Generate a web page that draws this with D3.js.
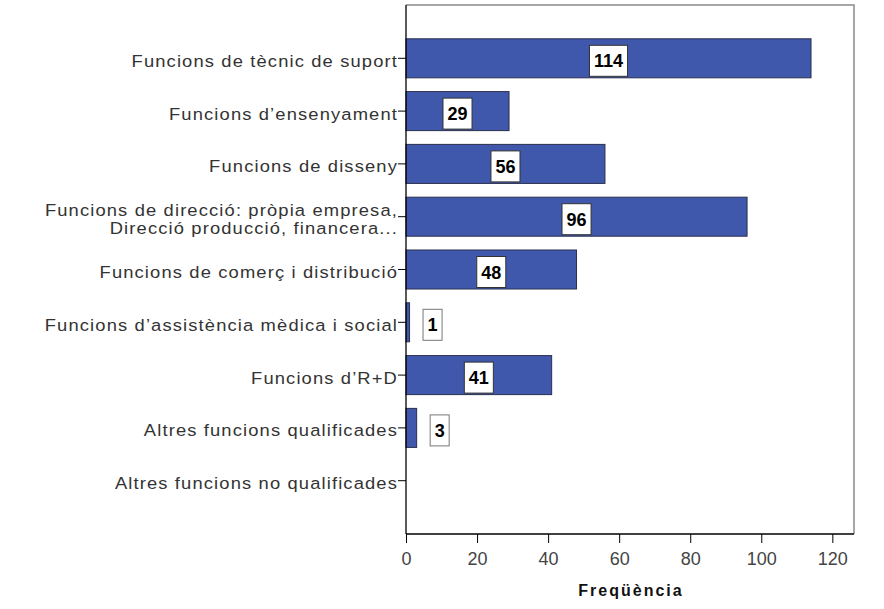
<!DOCTYPE html>
<html><head><meta charset="utf-8">
<script src="https://cdn.jsdelivr.net/npm/d3@7"></script>
<style>body{margin:0;background:#fff;} text{font-family:"Liberation Sans",Arial,sans-serif;}</style>
</head><body>
<svg id="c" width="884" height="609"></svg>
<script>
const categories = [
  ["Funcions de tècnic de suport"],
  ["Funcions d’ensenyament"],
  ["Funcions de disseny"],
  ["Funcions de direcció: pròpia empresa,", "Direcció producció, financera..."],
  ["Funcions de comerç i distribució"],
  ["Funcions d’assistència mèdica i social"],
  ["Funcions d’R+D"],
  ["Altres funcions qualificades"],
  ["Altres funcions no qualificades"]
];
const values = [114, 29, 56, 96, 48, 1, 41, 3, null];
const xTicks = [0, 20, 40, 60, 80, 100, 120];
const xTitle = "Freqüència";

const svg = d3.select("#c");
const L = 406, R = 854, T = 5, B = 534;
const x = d3.scaleLinear().domain([0, 126.1]).range([L, R]);
const y = d3.scaleBand().domain(d3.range(categories.length)).range([T, B]).paddingInner(0.261).paddingOuter(0.64);

// frame
svg.append("path").attr("d", `M${L},${T}H${R}V${B}`).attr("fill","none").attr("stroke","#8a8a8a").attr("stroke-width",1.5);

// bars
svg.selectAll("rect.bar").data(values.map((v,i)=>({v,i})).filter(d=>d.v!=null)).enter()
  .append("rect").attr("class","bar")
  .attr("x", x(0)).attr("y", d=>y(d.i)).attr("width", d=>x(d.v)-x(0)).attr("height", y.bandwidth())
  .attr("fill","#3f58ab").attr("stroke","#2b2f4f").attr("stroke-width",1);

// value labels
values.forEach((v,i)=>{
  if(v==null) return;
  const cy = y(i)+y.bandwidth()/2 + 2.5;
  const inside = v > 10;
  const cx = inside ? (x(0)+x(v))/2 : x(v)+23;
  const g = svg.append("g");
  const t = g.append("text").attr("x",cx).attr("y",cy+6.5).attr("text-anchor","middle")
    .attr("font-size",18).attr("font-weight","bold").attr("fill","#000").text(v);
  const bb = t.node().getBBox();
  g.insert("rect","text").attr("x",bb.x-4.5).attr("y",cy-15.5).attr("width",bb.width+9).attr("height",31)
    .attr("fill","#fff").attr("stroke", inside? "#333":"#777").attr("stroke-width",1);
});

// y axis
const ya = svg.append("g").attr("transform",`translate(${L},0)`)
  .call(d3.axisLeft(y).tickSize(8).tickFormat(""));
ya.select(".domain").attr("stroke","#000").attr("stroke-width",1.3).attr("d",`M0,${T}V${B}`);
ya.selectAll(".tick line").attr("stroke","#000");
categories.forEach((lines,i)=>{
  const cy = y(i)+y.bandwidth()/2;
  const ax = L-8;
  const t = svg.append("text").attr("text-anchor","end").attr("font-size",17).attr("fill","#333")
    .attr("letter-spacing","1.05")
    .attr("transform",`translate(${ax},0) scale(1.08,1)`);
  const n = lines.length;
  lines.forEach((s,k)=>{
    t.append("tspan").attr("x", 0).attr("y", cy + 8.5 + (k-(n-1)/2)*18).text(s);
  });
});

// x axis
const xa = svg.append("g").attr("transform",`translate(0,${B})`)
  .call(d3.axisBottom(x).tickValues(xTicks).tickSize(9).tickPadding(4));
xa.select(".domain").attr("stroke","#000").attr("stroke-width",1.3).attr("d",`M${L},0H${R}`);
xa.selectAll(".tick line").attr("stroke","#000");
xa.selectAll(".tick text").attr("font-size",18).attr("fill","#444").attr("dy",null).attr("y",31)
  .attr("font-family","Liberation Sans, Arial, sans-serif");

svg.append("text").attr("x",631).attr("y",596).attr("text-anchor","middle")
  .attr("font-size",16).attr("font-weight","bold").attr("fill","#111").attr("letter-spacing","2").text(xTitle);
</script>
</body></html>
